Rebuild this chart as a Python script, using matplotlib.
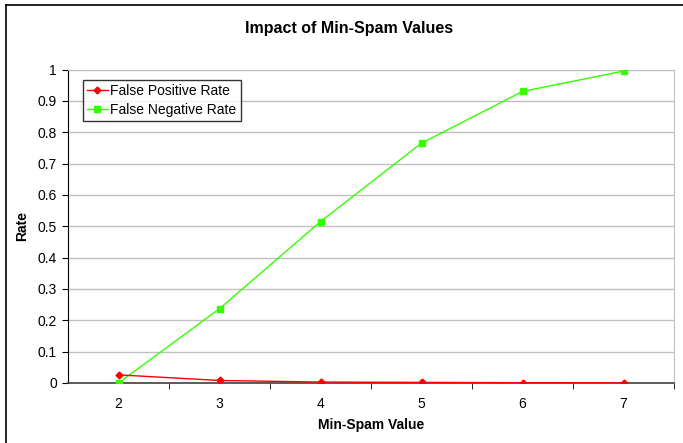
import matplotlib
matplotlib.use("Agg")
import matplotlib.pyplot as plt
from matplotlib.lines import Line2D

plt.rcParams['font.family'] = ['Liberation Sans', 'DejaVu Sans']

min_spam = [2, 3, 4, 5, 6, 7]
false_positive = [0.026, 0.008, 0.003, 0.002, 0.001, 0.0005]
false_negative = [0.0, 0.237, 0.515, 0.765, 0.930, 0.995]
y_ticks = [0, 0.1, 0.2, 0.3, 0.4, 0.5, 0.6, 0.7, 0.8, 0.9, 1]
y_labels = ['0', '0.1', '0.2', '0.3', '0.4', '0.5', '0.6', '0.7', '0.8', '0.9', '1']

W, H = 683, 443
fig = plt.figure(figsize=(W / 100, H / 100), dpi=100)
ax = fig.add_axes([68 / W, 1 - 383 / H, (674 - 68) / W, (383 - 69.5) / H])

# outer chart frame (left and top edges fall inside the canvas)
fx, fy = 5.5 / W, 1 - 4.5 / H
fig.lines.append(Line2D([fx, fx], [0, fy], transform=fig.transFigure,
                        color='black', linewidth=1.2))
fig.lines.append(Line2D([fx, 1], [fy, fy], transform=fig.transFigure,
                        color='black', linewidth=1.2))

ax.plot(min_spam, false_positive, color='#ff0000', marker='D', markersize=3.5,
        linewidth=1, label='False Positive Rate', zorder=4)
ax.plot(min_spam, false_negative, color='#33ff00', marker='s', markersize=4.5,
        linewidth=1, label='False Negative Rate', zorder=3)

ax.set_xlim(1.5, 7.5)
ax.set_ylim(0, 1)
ax.set_yticks(y_ticks)
ax.set_yticklabels(y_labels)
ax.set_xticks(min_spam)
ax.set_xticks([2.5, 3.5, 4.5, 5.5, 6.5, 7.5], minor=True)
ax.tick_params(axis='x', which='major', length=0, pad=10, labelsize=10)
ax.tick_params(axis='x', which='minor', length=4, direction='out', color='black')
ax.tick_params(axis='y', length=4, direction='out', labelsize=10, pad=4)

ax.grid(axis='y', color='#c0c0c0', linewidth=1)
ax.set_axisbelow(True)
for side in ('top', 'right'):
    ax.spines[side].set_color('#c0c0c0')
ax.spines['left'].set_color('black')
ax.spines['bottom'].set_color('#404040')
ax.spines['bottom'].set_linewidth(1.2)

ax.set_xlabel('Min-Spam Value', fontsize=10, fontweight='bold', labelpad=5)
ax.set_ylabel('Rate', fontsize=10, fontweight='bold', labelpad=6)
fig.text(349 / W, 1 - 28 / H, 'Impact of Min-Spam Values', ha='center', va='center',
         fontsize=11.5, fontweight='bold')

leg = ax.legend(loc='upper left', bbox_to_anchor=(0.024, 0.967), frameon=True,
                fancybox=False, edgecolor='black', fontsize=10,
                handlelength=1.5, handletextpad=0.2, borderpad=0.3,
                labelspacing=0.35, borderaxespad=0)
leg.get_frame().set_linewidth(1)

fig.savefig('out.png', dpi=100)
